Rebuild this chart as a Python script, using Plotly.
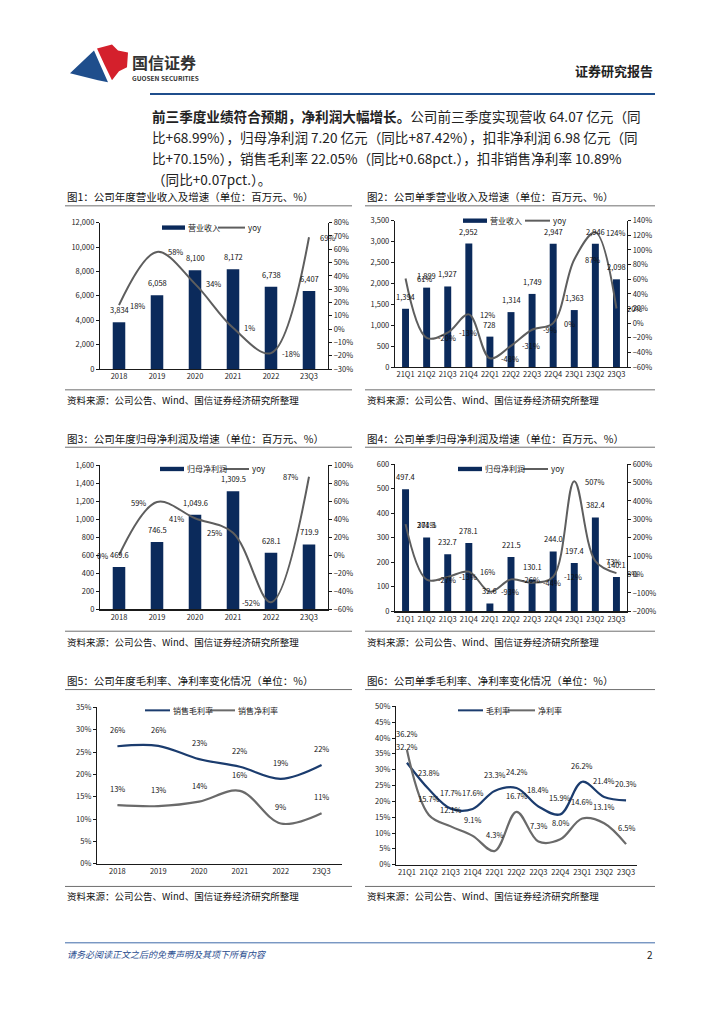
import plotly.graph_objects as go

W, H = 724, 1024
def X(p): return p / W
def Y(p): return 1 - p / H

FONT = "Noto Sans CJK SC"
BAR = "#0b2a5b"
GRAY = "#5e5e5e"
BLUE = "#1b3c6e"
AXC = "#1a1a1a"

# ---------------- data ----------------
years = ["2018", "2019", "2020", "2021", "2022", "23Q3"]
quarters = ["21Q1", "21Q2", "21Q3", "21Q4", "22Q1", "22Q2", "22Q3", "22Q4", "23Q1", "23Q2", "23Q3"]

rev_annual = [3834, 6058, 8100, 8172, 6738, 6407]
rev_annual_yoy = [18, 58, 34, 1, -18, 69]

rev_q = [1394, 1899, 1927, 2952, 728, 1314, 1749, 2947, 1363, 2946, 2098]
rev_q_yoy = [61, -20, -13, 12, -48, -31, -9, 0, 87, 124, 20]

np_annual = [469.6, 746.5, 1049.6, 1309.5, 628.1, 719.9]
np_annual_yoy = [0, 59, 41, 25, -52, 87]

np_q = [497.4, 301.3, 232.7, 278.1, 32.6, 221.5, 130.1, 244.0, 197.4, 382.4, 140.1]
np_q_yoy = [274, -27, -13, 16, -93, -26, -44, -12, 507, 73, 8]

gm_annual = [26.3, 26.4, 23.4, 21.7, 19.0, 22.1]
nm_annual = [13.1, 12.9, 13.9, 16.3, 9.0, 11.3]

gm_q = [32.2, 23.8, 17.7, 17.6, 23.3, 24.2, 18.4, 15.9, 26.2, 21.4, 20.3]
nm_q = [36.2, 15.7, 12.1, 9.1, 4.3, 16.7, 7.3, 8.0, 14.6, 13.1, 6.5]

# ---------------- helpers ----------------
fig = go.Figure()
layout = dict(width=W, height=H, margin=dict(l=0, r=0, t=0, b=0),
              paper_bgcolor="white", plot_bgcolor="rgba(0,0,0,0)",
              showlegend=False, font=dict(family=FONT, size=8, color="#222"))
annotations = []
shapes = []

def xr(n): return "x" if n == 1 else f"x{n}"
def yr(n): return "y" if n == 1 else f"y{n}"
def xk(n): return "xaxis" if n == 1 else f"xaxis{n}"
def yk(n): return "yaxis" if n == 1 else f"yaxis{n}"

TICKF = dict(family=FONT, size=7.5, color="#222")
LABF = dict(family=FONT, size=7.5, color="#111")

def txt(x, y, s, size=9, color="#222", xanchor="left", yanchor="middle", **kw):
    annotations.append(dict(x=X(x), y=Y(y), xref="paper", yref="paper", text=s, showarrow=False,
                            xanchor=xanchor, yanchor=yanchor,
                            font=dict(family=FONT, size=size, color=color), **kw))

def hline(x0, x1, y, color="#7a7a7a", width=1):
    shapes.append(dict(type="line", xref="paper", yref="paper", x0=X(x0), x1=X(x1), y0=Y(y), y1=Y(y),
                       line=dict(color=color, width=width)))

def legend_bar(x0, x1, y, label):
    shapes.append(dict(type="rect", xref="paper", yref="paper", x0=X(x0), x1=X(x1), y0=Y(y + 2.2), y1=Y(y - 2.2),
                       fillcolor=BAR, line=dict(width=0)))
    txt(x1 + 1, y, label, size=8)

def legend_line(x0, x1, y, label, color):
    shapes.append(dict(type="line", xref="paper", yref="paper", x0=X(x0), x1=X(x1), y0=Y(y), y1=Y(y),
                       line=dict(color=color, width=2)))
    txt(x1 + 1, y, label, size=8)

def xaxis_def(n, xpx, ncat):
    return dict(domain=[X(xpx[0]), X(xpx[1])], anchor=yr(n), type="category",
                range=[-0.5, ncat - 0.5], showgrid=False, zeroline=False, showline=True,
                linecolor=AXC, linewidth=1.2, ticks="", tickfont=TICKF)

def yaxis_def(n, ypx, rng, dtick, fmt=None, suffix=""):
    d = dict(domain=[Y(ypx[1]), Y(ypx[0])], anchor=xr(n), range=list(rng), dtick=dtick, tick0=rng[0],
             showgrid=False, zeroline=False, showline=True, linecolor=AXC, linewidth=1.2,
             ticks="outside", ticklen=3, tickwidth=1, tickcolor=AXC, tickfont=TICKF, ticksuffix=suffix)
    if fmt:
        d["tickformat"] = fmt
    return d

def bar_line_chart(n, rn, cats, bars, yoy, xpx, ypx, lrng, ldt, rrng, rdt, bar_fmt, side):
    fig.add_trace(go.Bar(x=cats, y=bars, xaxis=xr(n), yaxis=yr(n), marker=dict(color=BAR, line=dict(width=0)),
                         width=0.33, hoverinfo="skip"))
    fig.add_trace(go.Scatter(x=cats, y=yoy, xaxis=xr(n), yaxis=yr(rn), mode="lines",
                             line=dict(color=GRAY, width=2, shape="spline", smoothing=1.0), hoverinfo="skip"))
    layout[xk(n)] = xaxis_def(n, xpx, len(cats))
    layout[yk(n)] = yaxis_def(n, ypx, lrng, ldt, fmt=",d")
    ra = yaxis_def(n, ypx, rrng, rdt, suffix="%")
    ra.pop("domain")
    ra.update(overlaying=yr(n), side="right", anchor=xr(n))
    layout[yk(rn)] = ra
    for i, v in enumerate(bars):
        annotations.append(dict(x=i, y=v, xref=xr(n), yref=yr(n), text=bar_fmt(v), showarrow=False,
                                xanchor="center", yanchor="bottom", yshift=5, font=LABF))
    for i, v in enumerate(yoy):
        if side == "right":
            annotations.append(dict(x=i, y=v, xref=xr(n), yref=yr(rn), text=f"{v:.0f}%", showarrow=False,
                                    xanchor="left", yanchor="middle", xshift=9, font=LABF))
        else:
            annotations.append(dict(x=i, y=v, xref=xr(n), yref=yr(rn), text=f"{v:.0f}%", showarrow=False,
                                    xanchor="right", yanchor="middle", xshift=-9, font=LABF))

def margin_chart(n, cats, s1, s2, xpx, ypx, rng, dt, fmt):
    fig.add_trace(go.Scatter(x=cats, y=s1, xaxis=xr(n), yaxis=yr(n), mode="lines",
                             line=dict(color=BLUE, width=2.2, shape="spline", smoothing=1.0), hoverinfo="skip"))
    fig.add_trace(go.Scatter(x=cats, y=s2, xaxis=xr(n), yaxis=yr(n), mode="lines",
                             line=dict(color="#6a6a6a", width=2.2, shape="spline", smoothing=1.0), hoverinfo="skip"))
    layout[xk(n)] = xaxis_def(n, xpx, len(cats))
    layout[yk(n)] = yaxis_def(n, ypx, rng, dt, suffix="%")
    for s in (s1, s2):
        for i, v in enumerate(s):
            annotations.append(dict(x=i, y=v, xref=xr(n), yref=yr(n), text=fmt(v), showarrow=False,
                                    xanchor="center", yanchor="bottom", yshift=9, font=LABF))

# ---------------- charts ----------------
bar_line_chart(1, 7, years, rev_annual, rev_annual_yoy, (100, 328), (219, 367), (0, 12000), 2000,
               (-30, 80), 10, lambda v: f"{v:,}", "right")
bar_line_chart(2, 8, quarters, rev_q, rev_q_yoy, (395, 627), (217, 365), (0, 3500), 500,
               (-60, 140), 20, lambda v: f"{v:,}", "right")
bar_line_chart(3, 9, years, np_annual, np_annual_yoy, (100, 328), (464, 610), (0, 1600), 200,
               (-60, 100), 20, lambda v: f"{v:,.1f}", "left")
bar_line_chart(4, 10, quarters, np_q, np_q_yoy, (395, 627), (463, 612), (0, 600), 100,
               (-200, 600), 100, lambda v: f"{v:,.1f}", "right")
margin_chart(5, years, gm_annual, nm_annual, (97, 342), (709, 867), (0, 35), 5, lambda v: f"{v:.0f}%")
margin_chart(6, quarters, gm_q, nm_q, (396, 637), (708, 868), (0, 50), 5, lambda v: f"{v:.1f}%")

# legends
legend_bar(162, 185, 224, "营业收入"); legend_line(218, 245, 224, "yoy", GRAY)
legend_bar(463, 487, 217, "营业收入"); legend_line(525, 550, 217, "yoy", GRAY)
legend_bar(160, 184, 468, "归母净利润"); legend_line(224, 249, 468, "yoy", GRAY)
legend_bar(458, 482, 468, "归母净利润"); legend_line(523, 548, 468, "yoy", GRAY)
legend_line(145, 170, 712, "销售毛利率", BLUE); legend_line(210, 235, 712, "销售净利率", "#6a6a6a")
legend_line(458, 483, 712, "毛利率", BLUE); legend_line(508, 535, 712, "净利率", "#6a6a6a")

# titles, separators, sources
titles = [
    (65, 193, 202, 352, "图1：公司年度营业收入及增速（单位：百万元、%）"),
    (365, 193, 202, 655, "图2：公司单季营业收入及增速（单位：百万元、%）"),
    (65, 437, 446, 352, "图3：公司年度归母净利润及增速（单位：百万元、%）"),
    (365, 437, 446, 655, "图4：公司单季归母净利润及增速（单位：百万元、%）"),
    (65, 682, 691, 352, "图5：公司年度毛利率、净利率变化情况（单位：%）"),
    (365, 682, 691, 655, "图6：公司单季毛利率、净利率变化情况（单位：%）"),
]
for x0, ty, ly, x1, t in titles:
    txt(x0, ty, t, size=10.5, color="#111")
    hline(x0, x1, ly, color="#6f6f6f", width=1)
src = "资料来源：公司公告、Wind、国信证券经济研究所整理"
for x0, x1, ly, ty in [(65, 352, 388, 398), (365, 655, 388, 398), (65, 352, 632, 643),
                       (365, 655, 632, 643), (65, 352, 890, 900), (365, 655, 890, 900)]:
    hline(x0, x1, ly, color="#6f6f6f", width=1)
    txt(x0, ty, src, size=9.5, color="#111")

# header
shapes.append(dict(type="path", xref="paper", yref="paper",
                   path=f"M {X(70)},{Y(68)} L {X(94)},{Y(45)} Q {X(100)},{Y(59)} {X(108)},{Y(77)} L {X(98)},{Y(75)} Z",
                   fillcolor="#1f4e8c", line=dict(width=0)))
shapes.append(dict(type="path", xref="paper", yref="paper",
                   path=f"M {X(97)},{Y(43)} L {X(112)},{Y(39)} L {X(118)},{Y(45)} L {X(128)},{Y(47)} L {X(127)},{Y(62)} "
                        f"L {X(119)},{Y(66)} L {X(112)},{Y(75)} Q {X(104)},{Y(59)} {X(97)},{Y(43)} Z",
                   fillcolor="#d4202c", line=dict(width=0)))
txt(130, 57, "<b>国信证券</b>", size=16, color="#333")
txt(130, 73, "<b>GUOSEN SECURITIES</b>", size=6.5, color="#333")
txt(655, 65, "<b>证券研究报告</b>", size=13, color="#222", xanchor="right")
hline(150, 655, 89, color="#1f4e8c", width=2)

# paragraph
para = [
    "<b>前三季度业绩符合预期，净利润大幅增长。</b>公司前三季度实现营收 64.07 亿元（同",
    "比+68.99%），归母净利润 7.20 亿元（同比+87.42%），扣非净利润 6.98 亿元（同",
    "比+70.15%），销售毛利率 22.05%（同比+0.68pct.），扣非销售净利率 10.89%",
    "（同比+0.07pct.）。",
]
for i, line in enumerate(para):
    txt(150, 111 + i * 21.3, line, size=13.6, color="#222")

# footer
hline(65, 655, 947, color="#3e6aa8", width=1)
txt(65, 959, "<i>请务必阅读正文之后的免责声明及其项下所有内容</i>", size=9, color="#2a4d8f")
txt(655, 959, "2", size=10, color="#222", xanchor="right")

layout["annotations"] = annotations
layout["shapes"] = shapes
fig.update_layout(**layout)
fig.write_html("out.html", config={"displayModeBar": False, "staticPlot": True},
               post_script="document.body.style.margin='0';document.body.style.overflow='hidden';")
